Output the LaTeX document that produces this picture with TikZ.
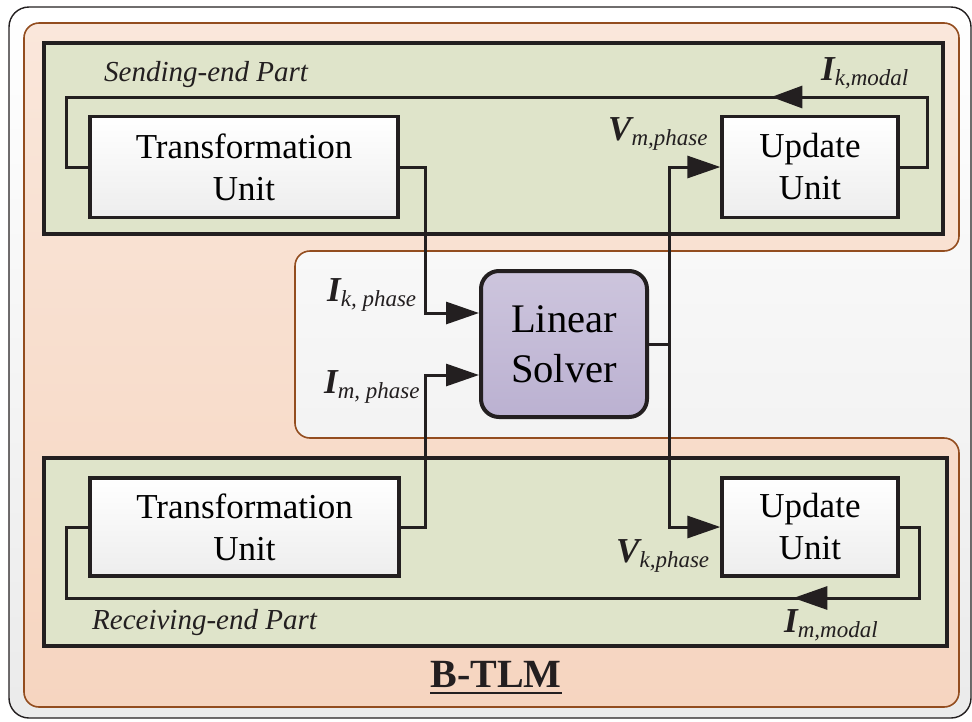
\documentclass[tikz,border=0pt]{standalone}
\usepackage{fontspec}
\setmainfont{Liberation Serif}
\usetikzlibrary{arrows.meta,calc,decorations.markings}

\definecolor{ink}{HTML}{231F20}
\definecolor{brownline}{HTML}{934D1F}
\definecolor{peachtop}{HTML}{FAE7DB}
\definecolor{peachbot}{HTML}{F6D5C0}
\definecolor{sage}{HTML}{DFE4CA}
\definecolor{lavtop}{HTML}{CDC5DD}
\definecolor{lavbot}{HTML}{BBB1D1}

% signal label: bold italic symbol with italic subscript
\newcommand{\sigl}[2]{{\fontsize{35}{35}\selectfont\bfseries\itshape #1}\raisebox{-5pt}{\fontsize{23}{23}\selectfont\itshape #2}}

\tikzset{
  unitbox/.style={draw=ink, line width=3.3pt, top color=white, bottom color=black!7,
    minimum width=#1, inner sep=0pt, align=center,
    font=\fontsize{35}{42}\selectfont},
  partbox/.style={draw=ink, line width=3.3pt, fill=sage},
  flow/.style={draw=ink, line width=3pt, -{Triangle[length=33pt,width=22pt]}},
  wire/.style={draw=ink, line width=3pt},
  siglabel/.style={anchor=base west, inner sep=0pt, text=ink},
  partlabel/.style={anchor=base west, inner sep=0pt, text=ink, font=\fontsize{29}{29}\selectfont\itshape},
}

\begin{document}
\begin{tikzpicture}[x=1pt, y=-1pt]
\useasboundingbox (0,0) rectangle (972,721);

% outer frame
\draw[rounded corners=20pt, top color=white, bottom color=black!8, draw=ink, line width=1.4pt]
  (9,7) rectangle (971,718);

% B-TLM region with the notch around the solver
\draw[rounded corners=15pt, top color=peachtop, bottom color=peachbot, draw=brownline, line width=1.6pt]
  (24,23) -- (959,23) -- (959,251) -- (295,251) -- (295,438) -- (959,438)
  -- (959,707) -- (24,707) -- cycle;

% sending-end and receiving-end parts
\draw[partbox] (44,43) rectangle (943,234);
\draw[partbox] (44,458) rectangle (947,646);

\node[partlabel] (sendlbl) at (104,81) {Sending-end Part};
\node[partlabel] (recvlbl) at (92,629) {Receiving-end Part};

% units
\node[unitbox=308pt, minimum height=101pt] (tu1) at (244,167) {Transformation\\Unit};
\node[unitbox=176pt, minimum height=101pt] (uu1) at (810,167) {Update\\Unit};
\node[unitbox=309pt, minimum height=98pt] (tu2) at (244.5,527) {Transformation\\Unit};
\node[unitbox=176pt, minimum height=98pt] (uu2) at (810,527) {Update\\Unit};

% solver
\node[draw=ink, line width=4pt, rounded corners=18pt, top color=lavtop, bottom color=lavbot,
  minimum width=166pt, minimum height=146pt, inner sep=0pt, align=center,
  font=\fontsize{40.6}{50}\selectfont] (solver) at (564,344) {Linear\\Solver};

% feedback loops
\coordinate (fbt) at (927,97);
\coordinate (fbtl) at (66,97);
\coordinate (fbb) at (919,598);
\coordinate (fbbl) at (66,598);

\draw[wire, postaction={decorate}, decoration={markings,
    mark=at position 253pt with {\arrow[fill=ink]{Triangle[length=31pt,width=22pt]}}}]
  (uu1.east) -| (fbt) -- (fbtl) |- (tu1.west);
\draw[wire, postaction={decorate}, decoration={markings,
    mark=at position 216pt with {\arrow[fill=ink]{Triangle[length=34pt,width=23pt]}}}]
  (uu2.east) -| (fbb) -- (fbbl) |- (tu2.west);

% phase currents into the solver
\draw[flow] (tu1.east) -| ($(solver.west)+(-54,-31)$) -- ($(solver.west)+(0,-31)$);
\draw[flow] (tu2.east) -| ($(solver.west)+(-54,31)$) -- ($(solver.west)+(0,31)$);

% phase voltages out of the solver
\draw[flow] (solver.east) -- ++(20,0) |- (uu1.west);
\draw[flow] (solver.east) -- ++(20,0) |- (uu2.west);

% signal labels
\node[siglabel] (ikmodal) at (821,80) {\sigl{I}{k,modal}};
\node[siglabel] (vmphase) at (608,140) {\sigl{V}{m,phase}};
\node[siglabel] (ikphase) at (327,301) {\sigl{I}{k, phase}};
\node[siglabel] (imphase) at (324,393) {\sigl{I}{m, phase}};
\node[siglabel] (vkphase) at (616,562) {\sigl{V}{k,phase}};
\node[siglabel] (immodal) at (784,632) {\sigl{I}{m,modal}};

% title
\node[anchor=base, inner sep=0pt, text=ink, font=\fontsize{40}{40}\selectfont\bfseries] (btlm) at (496,687) {B-TLM};
\draw[ink, line width=2.5pt] ($(btlm.base west)+(0,6)$) -- ($(btlm.base east)+(0,6)$);
\end{tikzpicture}
\end{document}
